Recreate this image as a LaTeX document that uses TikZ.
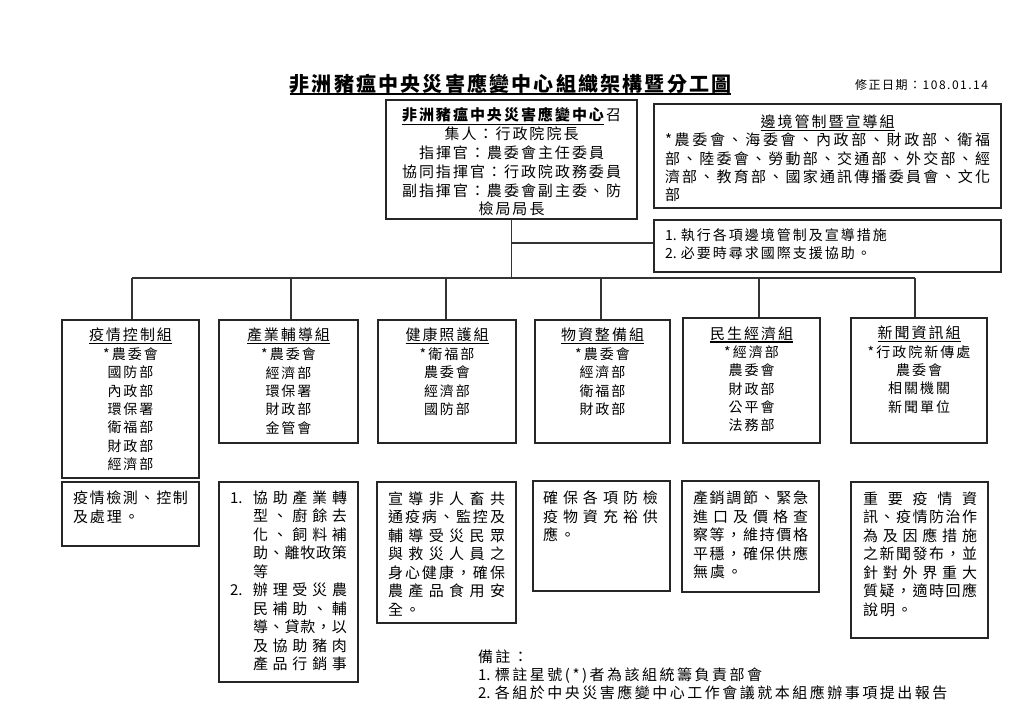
\documentclass[tikz,border=0pt]{standalone}
\usepackage{fontspec}
\setmainfont{Noto Sans CJK TC}
\usetikzlibrary{fit}
\makeatletter
\newcommand\spreadto[2]{\makebox[#1][s]{\spr@first#2\@nil}}
\def\spr@first#1{#1\spr@rest}
\def\spr@rest#1{\ifx#1\@nil\else\hfil#1\expandafter\spr@rest\fi}
\newcommand\lsp[2]{\def\lsp@k{#1}\lsp@first#2\@nil}
\def\lsp@first#1{#1\lsp@rest}
\def\lsp@rest#1{\ifx#1\@nil\else\kern\lsp@k\relax#1\expandafter\lsp@rest\fi}
\makeatother
\newcommand\fTitle{\fontsize{20}{24}\selectfont\bfseries}
\newcommand\fMain{\fontsize{15}{18.8}\selectfont}
\newcommand\fRB{\fontsize{15}{18.3}\selectfont}
\newcommand\fRL{\fontsize{14}{18}\selectfont}
\newcommand\fGT{\fontsize{15}{18}\selectfont}
\newcommand\fGM{\fontsize{14}{18.33}\selectfont}
\newcommand\fD{\fontsize{15}{18.5}\selectfont}
\newcommand\fN{\fontsize{15}{18}\selectfont}
\newcommand\fDate{\fontsize{12}{15}\selectfont}
\tikzset{
  box/.style={draw=black!85, line width=1.1pt, inner sep=0pt, rectangle},
  conn/.style={draw=black!80, line width=1.1pt},
  uline/.style={draw=black, line width=1.3pt},
  txt/.style={inner sep=0pt, outer sep=0pt},
}
\begin{document}
\begin{tikzpicture}[x=1pt,y=-1pt]
\fill[white] (0,0) rectangle (1024,718);
\useasboundingbox (0,0) rectangle (1024,718);

% title and date
\node[txt, font=\fTitle] (title) at (510.5,84) {\lsp{2.2pt}{非洲豬瘟中央災害應變中心組織架構暨分工圖}};
\draw[uline, line width=1.5pt] (title.south west) -- (title.south east);
\node[txt, font=\fDate, anchor=east] (date) at (988,85) {\lsp{1.5pt}{修正日期：108.01.14}};

% center box
\node[box, fit={(386,100) (637,219)}] (ctr) {};
\node[txt, font=\fMain, align=center] (ctrt) at (511.5,162) {%
  {\bfseries\underline{\lsp{2pt}{非洲豬瘟中央災害應變中心}}}\kern2pt\lsp{2pt}{召}\\
  \lsp{2pt}{集人：行政院院長}\\
  \lsp{2pt}{指揮官：農委會主任委員}\\
  \lsp{2pt}{協同指揮官：行政院政務委員}\\
  \lsp{2pt}{副指揮官：農委會副主委、防}\\
  \lsp{2pt}{檢局局長}};

% right boxes
\node[box, fit={(654,104) (1001,208)}] (rb1) {};
\node[txt, font=\fRB] (rb1t) at (827.5,122) {\lsp{2pt}{邊境管制暨宣導組}};
\draw[uline] ([yshift=-1.5pt]rb1t.south west) -- ([yshift=-1.5pt]rb1t.south east);
\node[txt, font=\fRB, align=left, anchor=west] (rb1m) at (665,167.5) {%
  \spreadto{325pt}{*農委會、海委會、內政部、財政部、衛福}\\
  \spreadto{325pt}{部、陸委會、勞動部、交通部、外交部、經}\\
  \spreadto{325pt}{濟部、教育部、國家通訊傳播委員會、文化}\\
  部};
\node[box, fit={(654,220) (1001,272)}] (rb2) {};
\node[txt, font=\fRL, align=left, anchor=west] (rb2t) at (665,244) {%
  1. \lsp{2pt}{執行各項邊境管制及宣導措施}\\
  2. \lsp{2pt}{必要時尋求國際支援協助。}};

% groups
\node[box, fit={(62,320) (199,478)}] (g1) {};
\node[box, fit={(219,320) (358,443)}] (g2) {};
\node[box, fit={(378,320) (516,443)}] (g3) {};
\node[box, fit={(535,320) (670,443)}] (g4) {};
\node[box, fit={(683,318) (820,443)}] (g5) {};
\node[box, fit={(851,318) (987,443)}] (g6) {};

\node[txt, font=\fGT] (g1t) at (130.5,335) {\lsp{2pt}{疫情控制組}};
\node[txt, font=\fGT] (g2t) at (288.5,335) {\lsp{2pt}{產業輔導組}};
\node[txt, font=\fGT] (g3t) at (447,335) {\lsp{2pt}{健康照護組}};
\node[txt, font=\fGT] (g4t) at (602.5,335) {\lsp{2pt}{物資整備組}};
\node[txt, font=\fGT] (g5t) at (751.5,333.5) {\lsp{2pt}{民生經濟組}};
\node[txt, font=\fGT] (g6t) at (919,333) {\lsp{2pt}{新聞資訊組}};
\foreach \g in {g1t,g2t,g3t,g4t,g5t,g6t}
  \draw[uline] ([yshift=-1.5pt]\g.south west) -- ([yshift=-1.5pt]\g.south east);

\node[txt, font=\fGM, align=center] (g1m) at (130.5,409.3) {%
  \lsp{2pt}{*農委會}\\\lsp{2pt}{國防部}\\\lsp{2pt}{內政部}\\\lsp{2pt}{環保署}\\\lsp{2pt}{衛福部}\\\lsp{2pt}{財政部}\\\lsp{2pt}{經濟部}};
\node[txt, font=\fGM, align=center] (g2m) at (288.5,391) {%
  \lsp{2pt}{*農委會}\\\lsp{2pt}{經濟部}\\\lsp{2pt}{環保署}\\\lsp{2pt}{財政部}\\\lsp{2pt}{金管會}};
\node[txt, font=\fGM, align=center] (g3m) at (447,381.8) {%
  \lsp{2pt}{*衛福部}\\\lsp{2pt}{農委會}\\\lsp{2pt}{經濟部}\\\lsp{2pt}{國防部}};
\node[txt, font=\fGM, align=center] (g4m) at (602.5,381.8) {%
  \lsp{2pt}{*農委會}\\\lsp{2pt}{經濟部}\\\lsp{2pt}{衛福部}\\\lsp{2pt}{財政部}};
\node[txt, font=\fGM, align=center] (g5m) at (751.5,388.7) {%
  \lsp{2pt}{*經濟部}\\\lsp{2pt}{農委會}\\\lsp{2pt}{財政部}\\\lsp{2pt}{公平會}\\\lsp{2pt}{法務部}};
\node[txt, font=\fGM, align=center] (g6m) at (919,379.2) {%
  \lsp{2pt}{*行政院新傳處}\\\lsp{2pt}{農委會}\\\lsp{2pt}{相關機關}\\\lsp{2pt}{新聞單位}};

% descriptions
\node[box, fit={(62,482) (199,546)}] (d1) {};
\node[box, fit={(219,482) (358,682)}] (d2) {};
\node[box, fit={(377,482) (516,623)}] (d3) {};
\node[box, fit={(533,481) (670,591)}] (d4) {};
\node[box, fit={(682,481) (819,592)}] (d5) {};
\node[box, fit={(851,482) (988,638)}] (d6) {};

\node[txt, font=\fD, align=left, anchor=west] (d1t) at (73,507.5) {%
  \spreadto{115pt}{疫情檢測、控制}\\\lsp{2pt}{及處理。}};
\node[txt, font=\fD, align=left, anchor=west] (d2t) at (230,581) {%
  \makebox[23pt][l]{1.}\spreadto{94pt}{協助產業轉}\\
  \hspace*{23pt}\spreadto{94pt}{型、廚餘去}\\
  \hspace*{23pt}\spreadto{94pt}{化、飼料補}\\
  \hspace*{23pt}\spreadto{94pt}{助、離牧政策}\\
  \hspace*{23pt}等\\
  \makebox[23pt][l]{2.}\spreadto{94pt}{辦理受災農}\\
  \hspace*{23pt}\spreadto{94pt}{民補助、輔}\\
  \hspace*{23pt}\spreadto{94pt}{導、貸款，以}\\
  \hspace*{23pt}\spreadto{94pt}{及協助豬肉}\\
  \hspace*{23pt}\spreadto{94pt}{產品行銷事}};
\node[txt, font=\fD, align=left, anchor=west] (d3t) at (388,554) {%
  \spreadto{117pt}{宣導非人畜共}\\
  \spreadto{117pt}{通疫病、監控及}\\
  \spreadto{117pt}{輔導受災民眾}\\
  \spreadto{117pt}{與救災人員之}\\
  \spreadto{117pt}{身心健康，確保}\\
  \spreadto{117pt}{農產品食用安}\\
  \lsp{2pt}{全。}};
\node[txt, font=\fD, align=left, anchor=west] (d4t) at (543,516.5) {%
  \spreadto{115pt}{確保各項防檢}\\
  \spreadto{115pt}{疫物資充裕供}\\
  \lsp{2pt}{應。}};
\node[txt, font=\fD, align=left, anchor=west] (d5t) at (693,535) {%
  \spreadto{115pt}{產銷調節、緊急}\\
  \spreadto{115pt}{進口及價格查}\\
  \spreadto{115pt}{察等，維持價格}\\
  \spreadto{115pt}{平穩，確保供應}\\
  \lsp{2pt}{無虞。}};
\node[txt, font=\fD, align=left, anchor=west] (d6t) at (863,554) {%
  \spreadto{114pt}{重要疫情資}\\
  \spreadto{114pt}{訊、疫情防治作}\\
  \spreadto{114pt}{為及因應措施}\\
  \spreadto{114pt}{之新聞發布，並}\\
  \spreadto{114pt}{針對外界重大}\\
  \spreadto{114pt}{質疑，適時回應}\\
  \lsp{2pt}{說明。}};

% notes
\node[txt, font=\fN, align=left, anchor=west] (notes) at (478,675) {%
  \lsp{2.5pt}{備註：}\\
  1. \lsp{2.5pt}{標註星號(*)者為該組統籌負責部會}\\
  2. \lsp{2.5pt}{各組於中央災害應變中心工作會議就本組應辦事項提出報告}};

% connectors
\coordinate (hub) at (511.5,278);
\coordinate (br) at (511.5,243);
\coordinate (b1) at (132,278);
\coordinate (b2) at (291,278);
\coordinate (b3) at (446,278);
\coordinate (b4) at (601,278);
\coordinate (b5) at (759,278);
\coordinate (b6) at (915,278);
\draw[conn] (ctr.south) -- (hub);
\draw[conn] (br) -- (br -| rb2.west);
\draw[conn] (b1) -- (b6);
\draw[conn] (b1) -- (b1 |- g1.north);
\draw[conn] (b2) -- (b2 |- g2.north);
\draw[conn] (b3) -- (b3 |- g3.north);
\draw[conn] (b4) -- (b4 |- g4.north);
\draw[conn] (b5) -- (b5 |- g5.north);
\draw[conn] (b6) -- (b6 |- g6.north);
\end{tikzpicture}
\end{document}
